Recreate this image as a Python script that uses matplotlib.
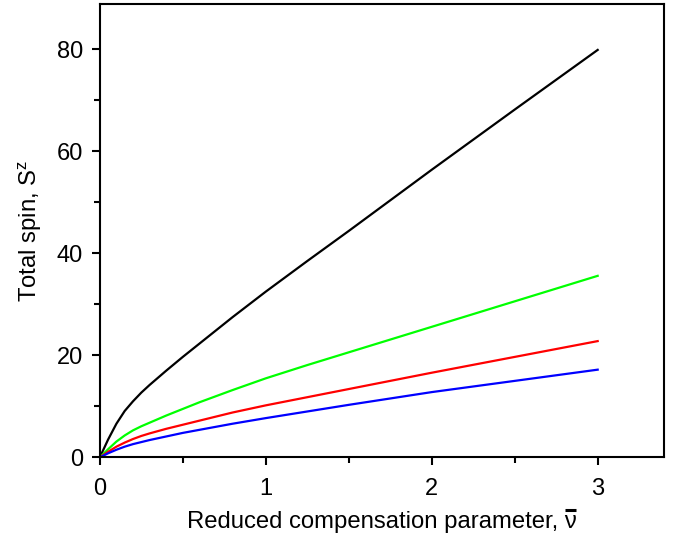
import matplotlib
matplotlib.use("Agg")
import matplotlib.pyplot as plt
from matplotlib.lines import Line2D
from matplotlib.ticker import MultipleLocator

plt.rcParams['font.family'] = ['Liberation Sans', 'DejaVu Sans']
plt.rcParams['mathtext.fontset'] = 'custom'
plt.rcParams['mathtext.rm'] = 'Liberation Sans'
plt.rcParams['mathtext.it'] = 'Liberation Sans'
plt.rcParams['mathtext.bf'] = 'Liberation Sans:bold'

# reduced compensation parameter
nu = [0, 0.05, 0.1, 0.15, 0.2, 0.25, 0.3, 0.4, 0.5, 0.6, 0.8, 1.0, 1.25, 1.5, 2.0, 2.5, 3.0]

# total spin for the four curves
s_black = [0, 3.5, 6.6, 9.1, 11.0, 12.7, 14.2, 17.0, 19.7, 22.3, 27.5, 32.5, 38.5, 44.4, 56.4, 68.2, 79.9]
s_green = [0, 1.6, 3.1, 4.3, 5.3, 6.1, 6.8, 8.2, 9.5, 10.8, 13.2, 15.5, 18.1, 20.6, 25.6, 30.6, 35.6]
s_red = [0, 1.1, 2.1, 2.9, 3.6, 4.2, 4.7, 5.6, 6.4, 7.2, 8.8, 10.2, 11.8, 13.4, 16.6, 19.7, 22.8]
s_blue = [0, 0.8, 1.5, 2.1, 2.6, 3.0, 3.4, 4.1, 4.8, 5.4, 6.6, 7.7, 9.0, 10.3, 12.8, 15.0, 17.2]

fig = plt.figure(figsize=(6.79, 5.40), dpi=100)
ax = fig.add_axes([0.147, 0.153, 0.831, 0.8405])

ax.plot(nu, s_black, color='black', lw=1.6)
ax.plot(nu, s_green, color='#00ff00', lw=1.6)
ax.plot(nu, s_red, color='#ff0000', lw=1.6)
ax.plot(nu, s_blue, color='#0000ff', lw=1.6)

ax.set_xlim(0, 3.4)
ax.set_ylim(0, 89)
ax.xaxis.set_major_locator(MultipleLocator(1))
ax.xaxis.set_minor_locator(MultipleLocator(0.5))
ax.yaxis.set_major_locator(MultipleLocator(20))
ax.yaxis.set_minor_locator(MultipleLocator(10))

for s in ax.spines.values():
    s.set_linewidth(1.5)
ax.tick_params(which='major', direction='out', length=6, width=1.5, labelsize=17)
ax.tick_params(which='minor', direction='out', length=4, width=1.5)
ax.tick_params(axis='x', which='major', pad=9)
ax.tick_params(axis='y', which='major', pad=6)

fs = 17.2
ax.set_xlabel('Reduced compensation parameter, \u03bd', fontsize=fs, labelpad=8)
ax.set_ylabel(r'Total spin, S$^\mathregular{z}$', fontsize=fs, labelpad=9)

# bar over nu
fig.canvas.draw()
r = fig.canvas.get_renderer()
bb = ax.xaxis.label.get_window_extent(r)
t = fig.text(0, 0, '\u03bd', fontsize=fs)
wn = t.get_window_extent(r).width
t.remove()
W, H = fig.bbox.width, fig.bbox.height
yb = bb.y1 + 1
fig.add_artist(Line2D([(bb.x1 - wn + 0.5) / W, (bb.x1 - 0.5) / W], [yb / H, yb / H],
                      color='black', lw=2.2, solid_capstyle='butt'))

fig.savefig('out.png', dpi=100)
